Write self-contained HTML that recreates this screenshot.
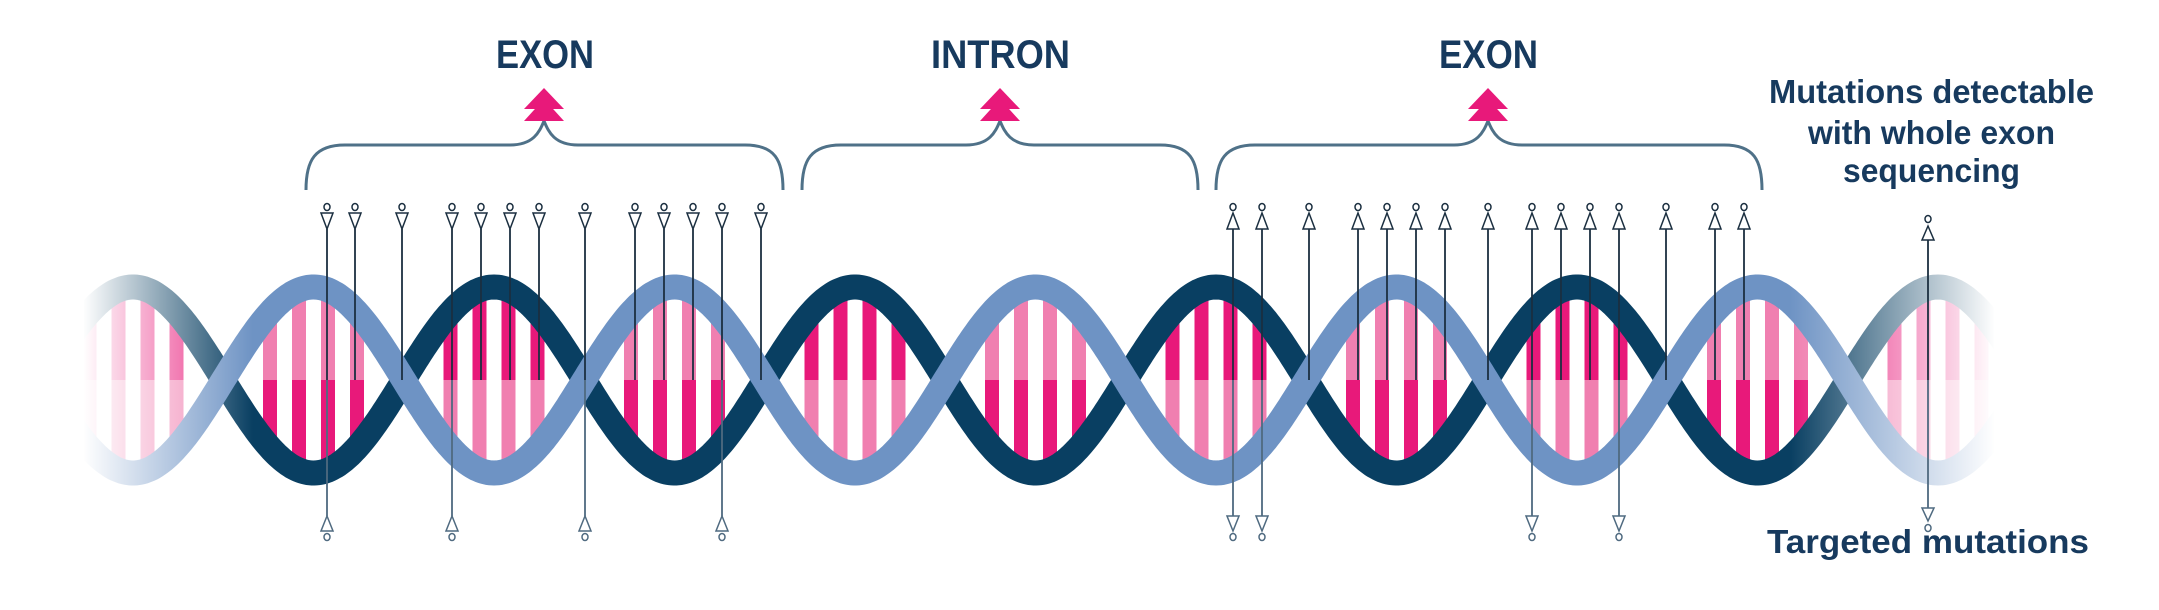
<!DOCTYPE html>
<html><head><meta charset="utf-8"><style>
html,body{margin:0;padding:0;background:#fff;width:2159px;height:610px;overflow:hidden}
svg{display:block}
text{font-family:"Liberation Sans Narrow","Liberation Sans",sans-serif;font-weight:bold;fill:#173a5e}
</style></head><body>
<svg id="s" width="2159" height="610" viewBox="0 0 2159 610" xmlns="http://www.w3.org/2000/svg">
<defs>
<linearGradient id="fl" x1="0" x2="1" y1="0" y2="0"><stop offset="0" stop-color="#fff" stop-opacity="1"/><stop offset="1" stop-color="#fff" stop-opacity="0"/></linearGradient>
<linearGradient id="fr" x1="0" x2="1" y1="0" y2="0"><stop offset="0" stop-color="#fff" stop-opacity="0"/><stop offset="1" stop-color="#fff" stop-opacity="1"/></linearGradient>
<clipPath id="lens"><polygon id="lensp" points=""/></clipPath>
</defs>
<g id="stripes" clip-path="url(#lens)"></g>
<g id="strands"></g>
<rect x="0" y="250" width="84" height="260" fill="#fff"/>
<rect x="83" y="250" width="170" height="260" fill="url(#fl)"/>
<rect x="1790" y="250" width="205" height="260" fill="url(#fr)"/>
<rect x="1994" y="250" width="170" height="260" fill="#fff"/>
<g id="marks"></g>
<g fill="none" stroke="#4f7188" stroke-width="3">
<path d="M306 190 C306 160 315 145 345 145 L510 145 C535 145 540 130 544 121 C548 130 553 145 578 145 L745 145 C775 145 783 160 783 190"/>
<path d="M802 190 C802 160 811 145 841 145 L966 145 C991 145 996 130 1000 121 C1004 130 1009 145 1034 145 L1160 145 C1190 145 1198 160 1198 190"/>
<path d="M1216 190 C1216 160 1225 145 1255 145 L1454 145 C1479 145 1484 130 1488 121 C1492 130 1497 145 1522 145 L1724 145 C1754 145 1762 160 1762 190"/>
</g>
<g fill="#e8197a">
<polygon points="544,88 524,109 564,109"/><polygon points="544,99 524,121 564,121"/>
<polygon points="1000,88 980,109 1020,109"/><polygon points="1000,99 980,121 1020,121"/>
<polygon points="1488,88 1468,109 1508,109"/><polygon points="1488,99 1468,121 1508,121"/>
</g>
<text x="496" y="68" font-size="40" textLength="98" lengthAdjust="spacingAndGlyphs">EXON</text>
<text x="931" y="68" font-size="40" textLength="139" lengthAdjust="spacingAndGlyphs">INTRON</text>
<text x="1439" y="68" font-size="40" textLength="99" lengthAdjust="spacingAndGlyphs">EXON</text>
<text x="1769" y="103" font-size="33" textLength="325" lengthAdjust="spacingAndGlyphs">Mutations detectable</text>
<text x="1808" y="144" font-size="33" textLength="247" lengthAdjust="spacingAndGlyphs">with whole exon</text>
<text x="1843" y="182" font-size="33" textLength="177" lengthAdjust="spacingAndGlyphs">sequencing</text>
<text x="1767" y="553" font-size="33" textLength="322" lengthAdjust="spacingAndGlyphs">Targeted mutations</text>
</svg>
<script>
(function(){
var NS="http://www.w3.org/2000/svg";
function el(t,a,p){var e=document.createElementNS(NS,t);for(var k in a)e.setAttribute(k,a[k]);p.appendChild(e);return e;}
var C=380,A=93,P=361,X0=494;
function yd(x){return C-A*Math.cos(2*Math.PI*(x-X0)/P);}
function yl(x){return C+A*Math.cos(2*Math.PI*(x-X0)/P);}
var x1=60,x2=2010,up=[],lo=[];
for(var x=x1;x<=x2;x+=2){var a=yd(x),b=yl(x);up.push(x+","+Math.min(a,b));lo.unshift(x+","+Math.max(a,b));}
document.getElementById("lensp").setAttribute("points",up.concat(lo).join(" "));
var sg=document.getElementById("stripes");
var DP="#e8197a",LP="#f07fb0";
for(var k=-2;k<12;k++){
  var pk=X0+k*P/2; var darkTop=(k%2===0);
  for(var j=-2;j<2;j++){
    var cx=pk+14.5+29*j;
    el("rect",{x:cx-7,y:280,width:14,height:100,fill:darkTop?DP:LP},sg);
    el("rect",{x:cx-7,y:380,width:14,height:100,fill:darkTop?LP:DP},sg);
  }
}
var st=document.getElementById("strands");
function path(f){var d="";for(var x=x1;x<=x2;x+=2){d+=(x===x1?"M":"L")+x+" "+f(x).toFixed(1)+" ";}return d;}
el("path",{d:path(yd),fill:"none",stroke:"#093f62","stroke-width":25},st);
el("path",{d:path(yl),fill:"none",stroke:"#6e93c4","stroke-width":25},st);
var mg=document.getElementById("marks");
function topMark(x,down){
  el("ellipse",{cx:x,cy:207,rx:3,ry:3.5,fill:"#fff",stroke:"#1b2f40","stroke-width":1.5},mg);
  var pts=down?(x-6)+",213 "+(x+6)+",213 "+x+",229":x+",213 "+(x-6)+",229 "+(x+6)+",229";
  el("polygon",{points:pts,fill:"#fff",stroke:"#1b2f40","stroke-width":1.5},mg);
}
function botMark(x,up){
  var pts=up?x+",516 "+(x-6)+",531 "+(x+6)+",531":(x-6)+",516 "+(x+6)+",516 "+x+",531";
  el("polygon",{points:pts,fill:"#fff",stroke:"#4f6a80","stroke-width":1.5},mg);
  el("ellipse",{cx:x,cy:537,rx:3,ry:3.5,fill:"#fff",stroke:"#4f6a80","stroke-width":1.5},mg);
}
var L=[327,355,402,452,481,510,539,585,635,664,693,722,761], LB=[327,452,585,722];
var R=[1233,1262,1309,1358,1387,1416,1445,1488,1532,1561,1590,1619,1666,1715,1744], RB=[1233,1262,1532,1619];
function line(x,y1,y2,c){el("line",{x1:x,y1:y1,x2:x,y2:y2,stroke:c,"stroke-width":1.8},mg);}
L.forEach(function(x){var b=LB.indexOf(x)>=0;line(x,229,380,"#1b2f40");if(b){line(x,380,516,"#4f6a80");botMark(x,true);}topMark(x,true);});
R.forEach(function(x){var b=RB.indexOf(x)>=0;line(x,229,380,"#1b2f40");if(b){line(x,380,516,"#4f6a80");botMark(x,false);}topMark(x,false);});
var x=1928;
el("ellipse",{cx:x,cy:219,rx:3,ry:3.5,fill:"#fff",stroke:"#1b2f40","stroke-width":1.5},mg);
el("polygon",{points:x+",226 "+(x-6)+",240 "+(x+6)+",240",fill:"#fff",stroke:"#1b2f40","stroke-width":1.5},mg);
line(x,240,380,"#1b2f40");line(x,380,508,"#4f6a80");
el("polygon",{points:(x-6)+",508 "+(x+6)+",508 "+x+",521",fill:"#fff",stroke:"#4f6a80","stroke-width":1.5},mg);
el("ellipse",{cx:x,cy:528,rx:3,ry:3.5,fill:"#fff",stroke:"#4f6a80","stroke-width":1.5},mg);
})();
</script>
</body></html>
